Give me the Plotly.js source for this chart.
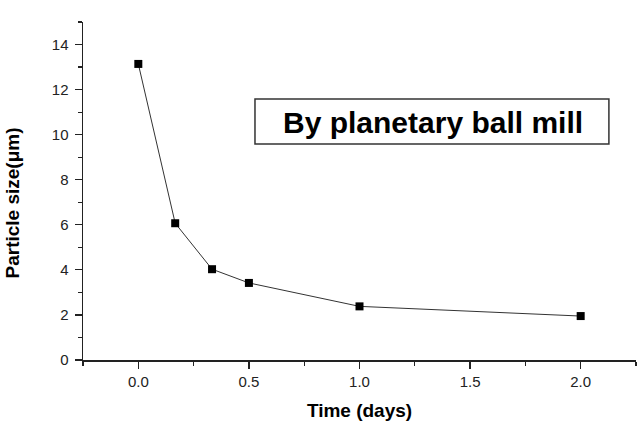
<!DOCTYPE html>
<html>
<head>
<meta charset="utf-8">
<script src="https://cdn.plot.ly/plotly-3.0.1.min.js"></script>
<style>html,body{margin:0;padding:0;background:#fff;}#chart{width:638px;height:434px;}</style>
</head>
<body>
<div id="chart"></div>
<script>
const timeDays = [0, 0.1667, 0.3333, 0.5, 1.0, 2.0];
const particleSize = [13.14, 6.07, 4.03, 3.42, 2.38, 1.95];
const xTickVals = [0, 0.5, 1.0, 1.5, 2.0];
const xTickText = ['0.0', '0.5', '1.0', '1.5', '2.0'];
const yTickVals = [0, 2, 4, 6, 8, 10, 12, 14];
const labelText = 'By planetary ball mill';
const xTitle = 'Time (days)';
const yTitle = 'Particle size(μm)';

const trace = {
  x: timeDays,
  y: particleSize,
  mode: 'lines+markers',
  type: 'scatter',
  line: {color: '#333', width: 1},
  marker: {symbol: 'square', size: 8, color: '#000'},
  showlegend: false,
  cliponaxis: false
};

const axisCommon = {
  showline: true, linecolor: '#222', linewidth: 1.5,
  ticks: 'outside', ticklen: 7, tickwidth: 1.2, tickcolor: '#222',
  showgrid: false, zeroline: false,
  tickfont: {family: 'Liberation Sans, Arial, sans-serif', size: 15, color: '#222'}
};

const layout = {
  width: 638, height: 434,
  margin: {l: 83, r: 2, t: 22, b: 74},
  paper_bgcolor: '#fff', plot_bgcolor: '#fff',
  xaxis: Object.assign({}, axisCommon, {
    range: [-0.2501, 2.2501],
    tickvals: xTickVals, ticktext: xTickText,
    minor: {dtick: 0.25, tick0: 0, ticks: 'outside', ticklen: 4, tickwidth: 1.2, tickcolor: '#222'},
    title: {text: xTitle, standoff: 15, font: {family: 'Liberation Sans, Arial, sans-serif', size: 19, color: '#000', weight: 'bold'}}
  }),
  yaxis: Object.assign({}, axisCommon, {
    range: [0, 15.001],
    tickvals: yTickVals,
    ticklabelstandoff: 3,
    minor: {dtick: 1, tick0: 0, ticks: 'outside', ticklen: 4, tickwidth: 1.2, tickcolor: '#222'}
  }),
  shapes: [{
    type: 'rect', xref: 'paper', yref: 'paper',
    x0: 0.311, x1: 0.951, y0: 0.639, y1: 0.772,
    line: {color: '#333', width: 1.5}, fillcolor: 'rgba(0,0,0,0)'
  }],
  annotations: [
    {
      text: labelText, xref: 'paper', yref: 'paper',
      x: 0.633, y: 0.704, xanchor: 'center', yanchor: 'middle', showarrow: false,
      font: {family: 'Liberation Sans, Arial, sans-serif', size: 30, color: '#000', weight: 'bold'}
    },
    {
      text: yTitle, xref: 'paper', yref: 'paper',
      x: -0.1266, y: 0.466, xanchor: 'center', yanchor: 'middle', showarrow: false,
      textangle: -90,
      font: {family: 'Liberation Sans, Arial, sans-serif', size: 19, color: '#000', weight: 'bold'}
    }
  ]
};

Plotly.newPlot('chart', [trace], layout, {displayModeBar: false, staticPlot: true});
</script>
</body>
</html>
